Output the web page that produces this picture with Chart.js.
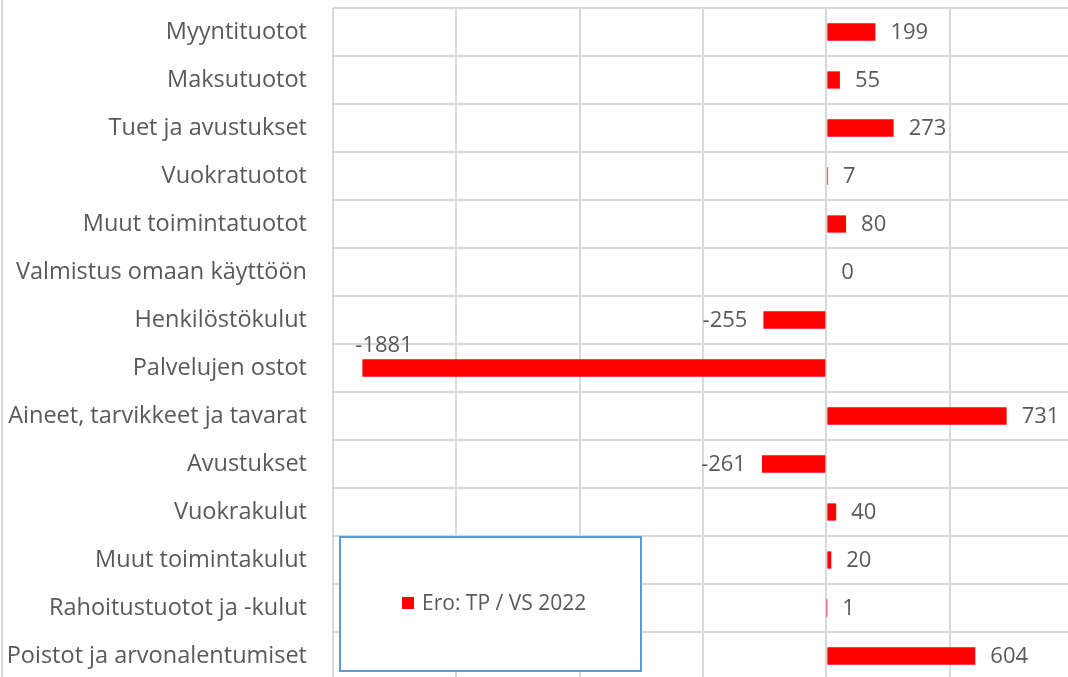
<!DOCTYPE html>
<html>
<head>
<meta charset="utf-8">
<script src="https://cdn.jsdelivr.net/npm/chart.js@4/dist/chart.umd.min.js"></script>
<style>
  body { margin: 0; background: #fff; }
  #wrap { width: 1068px; height: 677px; overflow: hidden; position: relative; }
</style>
</head>
<body>
<div id="wrap"><canvas id="diffChart" width="1080" height="690"></canvas></div>
<script>
const categories = [
    'Myyntituotot',
    'Maksutuotot',
    'Tuet ja avustukset',
    'Vuokratuotot',
    'Muut toimintatuotot',
    'Valmistus omaan käyttöön',
    'Henkilöstökulut',
    'Palvelujen ostot',
    'Aineet, tarvikkeet ja tavarat',
    'Avustukset',
    'Vuokrakulut',
    'Muut toimintakulut',
    'Rahoitustuotot ja -kulut',
    'Poistot ja arvonalentumiset'
];
const diffValues = [199, 55, 273, 7, 80, 0, -255, -1881, 731, -261, 40, 20, 1, 604];
const seriesLabel = 'Ero: TP / VS 2022';

const textColor = '#595959';
const gridColor = '#d9d9d9';
const fontFamily = '"Open Sans", sans-serif';

// value labels next to bar ends (no datalabels plugin available offline)
const barLabels = {
    id: 'barLabels',
    afterDatasetsDraw(chart) {
        const ctx = chart.ctx;
        const meta = chart.getDatasetMeta(0);
        const area = chart.chartArea;
        ctx.save();
        ctx.font = '22px ' + fontFamily;
        ctx.fillStyle = textColor;
        meta.data.forEach((bar, i) => {
            const v = chart.data.datasets[0].data[i];
            const txt = String(v);
            const w = ctx.measureText(txt).width;
            if (v >= 0) {
                ctx.textAlign = 'left';
                ctx.textBaseline = 'middle';
                ctx.fillText(txt, Math.max(bar.x, bar.base) + 15, bar.y + 1);
            } else if (bar.x - 16 - w < area.left) {
                // no room outside: put it above the bar end
                ctx.textAlign = 'left';
                ctx.textBaseline = 'alphabetic';
                ctx.fillText(txt, bar.x - 7, bar.y - bar.height / 2 - 7);
            } else {
                ctx.textAlign = 'right';
                ctx.textBaseline = 'middle';
                ctx.fillText(txt, bar.x - 16, bar.y + 1);
            }
        });
        ctx.restore();
    }
};

// boxed legend sitting inside the plot, plus the thin frame line on the left
const boxLegend = {
    id: 'boxLegend',
    beforeDraw(chart) {
        const ctx = chart.ctx;
        ctx.save();
        ctx.fillStyle = gridColor;
        ctx.fillRect(1, 0, 2, chart.height);
        ctx.restore();
    },
    afterDraw(chart) {
        const ctx = chart.ctx;
        const ds = chart.data.datasets[0];
        ctx.save();
        ctx.fillStyle = '#fff';
        ctx.fillRect(340, 537, 301, 134);
        ctx.strokeStyle = '#5b9bd5';
        ctx.lineWidth = 2;
        ctx.strokeRect(340, 537, 301, 134);
        ctx.fillStyle = ds.backgroundColor;
        ctx.fillRect(402, 597, 12, 12);
        ctx.font = '21px ' + fontFamily;
        ctx.fillStyle = textColor;
        ctx.textAlign = 'left';
        ctx.textBaseline = 'middle';
        ctx.fillText(ds.label, 422, 604);
        ctx.restore();
    }
};

new Chart(document.getElementById('diffChart'), {
    type: 'bar',
    data: {
        labels: categories,
        datasets: [{
            label: seriesLabel,
            data: diffValues,
            backgroundColor: '#ff0000',
            categoryPercentage: 1,
            barPercentage: 0.36
        }]
    },
    options: {
        indexAxis: 'y',
        responsive: false,
        animation: false,
        devicePixelRatio: 1,
        layout: { padding: { left: 0, top: 8, right: 7, bottom: 10 } },
        plugins: {
            legend: { display: false },
            tooltip: { enabled: false }
        },
        scales: {
            x: {
                min: -2000,
                max: 1000,
                ticks: { display: false, stepSize: 500 },
                grid: { color: gridColor, lineWidth: 2, drawTicks: false },
                border: { display: false }
            },
            y: {
                ticks: {
                    color: textColor,
                    font: { family: fontFamily, size: 23.5 },
                    padding: 26
                },
                grid: { color: gridColor, lineWidth: 2, drawTicks: false, offset: true },
                border: { display: false },
                afterFit(scale) {
                    scale.width = 333;
                    scale.paddingTop = 0;
                    scale.paddingBottom = 0;
                }
            }
        }
    },
    plugins: [barLabels, boxLegend]
});
</script>
</body>
</html>
